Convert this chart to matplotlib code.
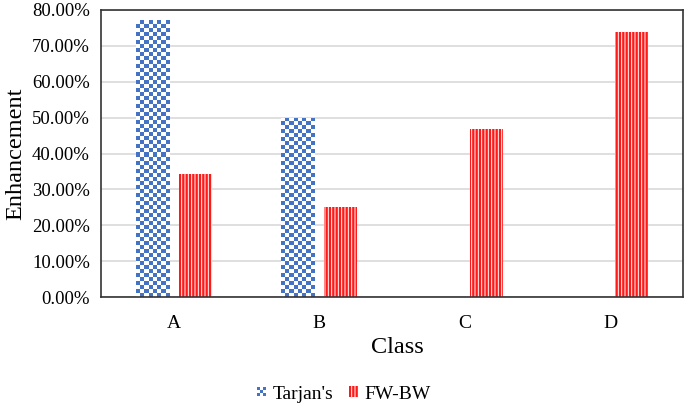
import matplotlib.pyplot as plt
import numpy as np
from matplotlib.patches import Patch, Rectangle
from matplotlib.legend_handler import HandlerBase
from matplotlib.colors import ListedColormap

plt.rcParams['font.family'] = ['Liberation Serif', 'DejaVu Serif']
plt.rcParams['hatch.linewidth'] = 0.7

classes = ['A', 'B', 'C', 'D']
tarjan = [77.2, 50.0, 0.0, 0.0]
fwbw = [34.2, 25.0, 46.8, 74.0]
y_ticks = [0, 10, 20, 30, 40, 50, 60, 70, 80]

blue = '#4472C4'
red = '#FF1A1A'


def checker_fill(ax, bar, cell_px=4):
    # fill a bar with a blue/white checkerboard, clipped to the bar
    x0, y0 = bar.get_x(), bar.get_y()
    w, h = bar.get_width(), bar.get_height()
    if h <= 0:
        return
    p0 = ax.transData.transform((x0, y0))
    p1 = ax.transData.transform((x0 + w, y0 + h))
    nx = max(1, int(round((p1[0] - p0[0]) / cell_px)))
    ny = max(1, int(round((p1[1] - p0[1]) / cell_px)))
    grid = (np.add.outer(np.arange(ny), np.arange(nx)) % 2).astype(float)
    im = ax.imshow(grid, cmap=ListedColormap(['white', blue]), extent=(x0, x0 + w, y0, y0 + h),
                   aspect='auto', interpolation='nearest', zorder=2, origin='lower')
    im.set_clip_path(bar)


class CheckerHandler(HandlerBase):
    def create_artists(self, legend, orig_handle, xdescent, ydescent,
                       width, height, fontsize, trans):
        n = 3
        s = min(width, height)
        x0 = -xdescent + (width - s) / 2
        y0 = -ydescent + (height - s) / 2
        arts = []
        for i in range(n):
            for j in range(n):
                c = blue if (i + j) % 2 == 0 else '#FFFFFF'
                arts.append(Rectangle((x0 + i * s / n, y0 + j * s / n), s / n, s / n,
                                      facecolor=c, edgecolor='none', transform=trans))
        return arts


fig = plt.figure(figsize=(6.85, 4.08), dpi=100)
ax = fig.add_axes([0.1474, 0.272, 0.8496, 0.7035])

x = np.arange(len(classes))
width = 0.227
offset = 0.148

ax.set_xlim(-0.5, len(classes) - 0.5)
ax.set_ylim(0, 80)

tbars = ax.bar(x - offset, tarjan, width, color='none', edgecolor='none', zorder=2)
fbars = ax.bar(x + offset, fwbw, width, color=red, edgecolor='#FFFFFF',
               hatch='|||||', linewidth=0, zorder=2)

for b in tbars:
    checker_fill(ax, b)

ax.set_xticks(x)
ax.set_xticklabels(classes, fontsize=14)
ax.set_yticks(y_ticks)
ax.set_yticklabels([f'{v:.2f}%' for v in y_ticks], fontsize=13.5)
ax.tick_params(axis='both', length=0)
ax.tick_params(axis='x', pad=13)
ax.tick_params(axis='y', pad=8)

ax.grid(axis='y', color='#D9D9D9', linewidth=1.2, zorder=0)
ax.set_axisbelow(True)
for s in ax.spines.values():
    s.set_color('#333333')
    s.set_linewidth(1.2)

ax.set_xlabel('Class', fontsize=17.5)
ax.xaxis.set_label_coords(0.51, -0.138)
ax.set_ylabel('Enhancement', fontsize=17.5, labelpad=4)

tproxy = Patch(facecolor=blue, label="Tarjan's")
fproxy = Patch(facecolor=red, edgecolor='white', hatch='|||||', linewidth=0, label='FW-BW')
fig.legend(handles=[tproxy, fproxy], loc='center', bbox_to_anchor=(0.502, 0.034), ncol=2,
           frameon=False, fontsize=14, handlelength=0.45, handleheight=0.45,
           columnspacing=0.8, handletextpad=0.35, handler_map={tproxy: CheckerHandler()})

fig.savefig('out.png', dpi=100)
